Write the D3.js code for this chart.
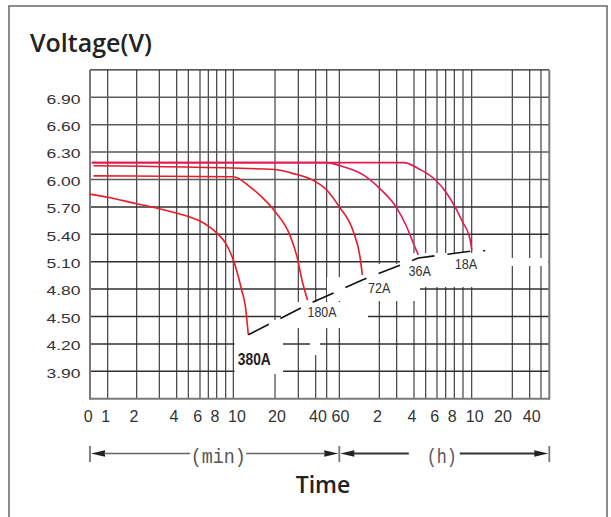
<!DOCTYPE html>
<html><head><meta charset="utf-8">
<script src="https://cdn.jsdelivr.net/npm/d3@7"></script>
<style>html,body{margin:0;padding:0;background:#fff}svg{display:block}</style>
</head><body>
<svg id="chart" width="611" height="517"></svg>
<script>
// ---------------- DATA ----------------
const yTickValues = [6.90, 6.60, 6.30, 6.00, 5.70, 5.40, 5.10, 4.80, 4.50, 4.20, 3.90];
// time axis in minutes
const minuteGrid = [1, 2, 3, 4, 5, 6, 7, 8, 9, 10, 20, 30, 40, 50, 60];
const hourGrid = [2, 3, 4, 5, 6, 7, 8, 9, 10, 20, 30, 40];
const minuteLabels = [0, 1, 2, 4, 6, 8, 10, 20, 40, 60];
const hourLabels = [2, 4, 6, 8, 10, 20, 40];
const seriesNames = ["380A", "180A", "72A", "36A", "18A"];
// [minutes, volts]
const curve380A = [[0,5.84],[1,5.805],[2,5.735],[3,5.68],[4,5.632],[5,5.595],[6,5.545],[7,5.49],[8,5.415],[9,5.30],[10,5.12],[11,4.97],[12,4.79],[12.9,4.61],[13.6,4.30]];
const curve180A = [[0.2,6.04],[10,6.03],[14,5.92],[16.8,5.81],[20,5.65],[26.4,5.39],[29.5,5.15],[32.1,4.90],[35.3,4.68]];
const curve72A  = [[0.2,6.15],[20,6.11],[27,6.07],[38.6,5.99],[50,5.885],[60,5.70],[81,5.43],[91,5.155],[94.5,4.955]];
const curve36A  = [[0.1,6.185],[50,6.185],[61.5,6.15],[96,6.05],[122,5.90],[180,5.69],[215,5.48],[238,5.30],[262,5.175]];
const curve18A  = [[0.1,6.185],[203,6.185],[271,6.11],[349,6.00],[427,5.85],[485,5.70],[542,5.52],[577,5.41],[594,5.30],[600,5.225]];
const cutoffLine = [[13.6,4.30],[35.3,4.63],[94.5,4.90],[262,5.14],[600,5.217],[800,5.22]];

// ---------------- LAYOUT ----------------
const W = 611, H = 517;
const plotTop = 69.9, plotBottom = 398.7;
// piecewise time axis (hand-drawn scale of the original)
const xBreaks = [0,1,2,3,4,5,6,7,8,9,10,20,30,40,50,60,120,180,240,300,360,420,480,540,600,1200,1800,2400,3000];
const xPixels = [90,107.7,136.7,159.3,176.7,188.3,200,208.3,216.7,225.7,233.3,275,298.3,315.7,326.7,339.3,379.3,396.7,414,425.7,437,445.7,454.3,463,471.7,512.3,529.7,541,549.3];
const minLabelNudge = [-1.7,-2,-2.7,-2.7,-2.3,-1.7,3.7,2,2.3,1.2];
const hourLabelNudge = [-1.8,-2,-2.3,-2,3,-9.3,-9.3];
const labelOffsets = [[6,30],[14.5,16.7],[17,18],[1.4,21],[-5.7,18.5]]; // text centre dx, baseline dy from curve end
// white-out regions of the scanned original [x0,y0,x1,y1]
const masks = [[234.5,337,283,374],[270,320,283,337],[281,302,345,328],[345,302,368,322],[310,322,320,355],
               [327,277,420,301],[370,264,420,301],[400,253,500,287],[500,258,548,266]];

const svg = d3.select("#chart");
const x = d3.scaleLinear().domain(xBreaks).range(xPixels);
const y = d3.scaleLinear().domain([3.6, 7.2]).range([plotBottom, plotTop]);
const xL = x(0), xR = x(3000);

// outer frame
svg.append("rect").attr("x", 9).attr("y", 6).attr("width", 598).attr("height", 530)
  .attr("fill", "none").attr("stroke", "#707070").attr("stroke-width", 1.6);

// title
svg.append("text").attr("x", 30).attr("y", 51.5).text("Voltage(V)")
  .attr("font-family", "'Open Sans', 'Noto Sans', sans-serif").attr("font-weight", 600)
  .attr("font-size", 25).attr("fill", "#222");

// grid
const grid = svg.append("g");
const vGrid = minuteGrid.concat(hourGrid.map(h => h * 60));
grid.selectAll("line.v").data(vGrid).join("line")
  .attr("x1", d => x(d)).attr("x2", d => x(d)).attr("y1", plotTop).attr("y2", plotBottom)
  .attr("stroke", "#2e2e2e").attr("stroke-width", 1.1);
grid.selectAll("line.h").data(yTickValues).join("line")
  .attr("x1", xL).attr("x2", xR).attr("y1", d => y(d)).attr("y2", d => y(d))
  .attr("stroke", (d) => d >= 6.0 ? "#5a5a5a" : "#303030").attr("stroke-width", 1.5);

// white-out masks
svg.append("g").selectAll("rect").data(masks).join("rect")
  .attr("x", d => d[0]).attr("y", d => d[1]).attr("width", d => d[2] - d[0]).attr("height", d => d[3] - d[1])
  .attr("fill", "#fff");

// plot border
svg.append("line").attr("x1", xL).attr("x2", xR).attr("y1", plotTop).attr("y2", plotTop).attr("stroke", "#222").attr("stroke-width", 1.2);
svg.append("line").attr("x1", xL).attr("x2", xL).attr("y1", plotTop).attr("y2", plotBottom + 1).attr("stroke", "#7a7a7a").attr("stroke-width", 2);
svg.append("line").attr("x1", xR).attr("x2", xR).attr("y1", plotTop).attr("y2", plotBottom + 1).attr("stroke", "#7a7a7a").attr("stroke-width", 2);
svg.append("line").attr("x1", xL).attr("x2", xR).attr("y1", plotBottom).attr("y2", plotBottom).attr("stroke", "#7a7a7a").attr("stroke-width", 2);

// y tick labels
svg.append("g").selectAll("text").data(yTickValues).join("text")
  .attr("x", 80.5).attr("y", d => y(d) + 6.3).attr("text-anchor", "end")
  .attr("font-family", "'Liberation Sans', Arial, sans-serif").attr("font-size", 13.5)
  .attr("textLength", 34).attr("lengthAdjust", "spacingAndGlyphs")
  .attr("fill", "#333").text(d => d.toFixed(2));

// x tick labels
const xLab = svg.append("g").attr("font-family", "'Liberation Sans', Arial, sans-serif")
  .attr("font-size", 16).attr("fill", "#333").attr("text-anchor", "middle");
xLab.selectAll("text.m").data(minuteLabels).join("text").attr("class", "m")
  .attr("x", (d, i) => x(d) + minLabelNudge[i]).attr("y", 421.5).text(d => d);
xLab.selectAll("text.h").data(hourLabels).join("text").attr("class", "h")
  .attr("x", (d, i) => x(d * 60) + hourLabelNudge[i]).attr("y", 421.5).text(d => d);

// curves
const line = d3.line().x(d => x(d[0])).y(d => y(d[1])).curve(d3.curveMonotoneX);
const curves = [curve380A, curve180A, curve72A, curve36A, curve18A];
const curveColors = ["#ec1c24", "#ec1c24", "#e8192c", "#e3194f", "#e3194f"];
svg.append("g").selectAll("path").data(curves).join("path")
  .attr("d", line).attr("fill", "none").attr("stroke", (d, i) => curveColors[i]).attr("stroke-width", 1.6);

// cutoff (knee) line
svg.append("path").attr("d", d3.line().x(d => x(d[0])).y(d => y(d[1]))(cutoffLine))
  .attr("fill", "none").attr("stroke", "#111").attr("stroke-width", 1.6).attr("stroke-dasharray", "23,13");

// series labels
svg.append("g").selectAll("text").data(seriesNames).join("text")
  .attr("x", (d, i) => { const e = curves[i][curves[i].length - 1]; return x(e[0]) + labelOffsets[i][0]; })
  .attr("y", (d, i) => { const e = curves[i][curves[i].length - 1]; return y(e[1]) + labelOffsets[i][1]; })
  .attr("text-anchor", "middle")
  .attr("font-family", "'Liberation Sans Narrow', 'Arial Narrow', 'Liberation Sans', sans-serif")
  .attr("font-size", (d, i) => i === 0 ? 17 : 15)
  .attr("font-weight", (d, i) => i === 0 ? 700 : 400)
  .attr("textLength", (d, i) => i === 0 ? 33 : (i === 1 ? 29 : 22.5)).attr("lengthAdjust", "spacingAndGlyphs")
  .attr("fill", (d, i) => i === 0 ? "#222" : "#333").text(d => d);

// (min) / (h) arrows
const ay = 453.5;
const xM = x(60);
const arr = svg.append("g");
[xL, xM, xR].forEach(px => arr.append("line").attr("x1", px).attr("x2", px).attr("y1", 446).attr("y2", 462)
  .attr("stroke", "#777").attr("stroke-width", 1.8));
function head(tip, dir) {
  arr.append("path").attr("d", `M${tip},${ay} L${tip + dir * 14},${ay - 3.2} L${tip + dir * 14},${ay + 3.2} Z`).attr("fill", "#222");
}
head(xL + 1, 1); head(xM - 1, -1); head(xM + 1, 1); head(xR - 1, -1);
const minC = (xL + xM) / 2 + 3.5, hC = (xM + xR) / 2 - 2.5;
const seg = (a, b, w, c) => arr.append("line").attr("x1", a).attr("x2", b).attr("y1", ay).attr("y2", ay).attr("stroke", c).attr("stroke-width", w);
seg(xL + 14, minC - 28, 1.3, "#666");
seg(minC + 28, xM - 14, 1.3, "#666");
seg(xM + 14, hC - 33, 2, "#333");
seg(hC + 18, xR - 14, 2, "#333");
arr.append("text").attr("x", minC).attr("y", 463).attr("text-anchor", "middle")
  .attr("font-family", "'Liberation Mono', 'DejaVu Sans Mono', monospace").attr("font-size", 20)
  .attr("textLength", 55).attr("lengthAdjust", "spacingAndGlyphs").attr("fill", "#555").text("(min)");
arr.append("text").attr("x", hC).attr("y", 463).attr("text-anchor", "middle")
  .attr("font-family", "'Liberation Mono', 'DejaVu Sans Mono', monospace").attr("font-size", 20)
  .attr("textLength", 30).attr("lengthAdjust", "spacingAndGlyphs").attr("fill", "#555").text("(h)");

// axis title
svg.append("text").attr("x", 323).attr("y", 492.7).attr("text-anchor", "middle").text("Time")
  .attr("font-family", "'Open Sans', 'Noto Sans', sans-serif").attr("font-weight", 600)
  .attr("font-size", 23).attr("fill", "#222");
</script>
</body></html>
